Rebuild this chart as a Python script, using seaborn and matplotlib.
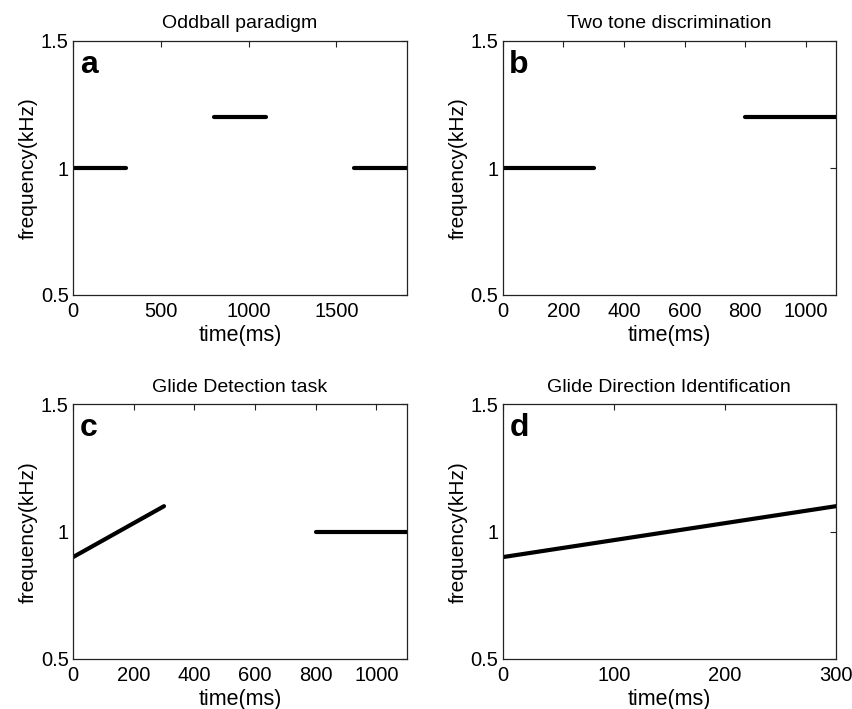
import matplotlib
matplotlib.use("Agg")
import matplotlib.pyplot as plt
import seaborn as sns
import pandas as pd

sns.set_style("white")
plt.rcParams['font.family'] = ['Liberation Sans', 'DejaVu Sans']
plt.rcParams['text.color'] = 'black'
plt.rcParams['axes.labelcolor'] = 'black'

# Segment data: (panel, segment id, time start/end, freq start/end)
titles = ["Oddball paradigm", "Two tone discrimination",
          "Glide Detection task", "Glide Direction Identification"]
letters = ["a", "b", "c", "d"]
xlims = [1900, 1100, 1100, 300]
xticks = [[0, 500, 1000, 1500], [0, 200, 400, 600, 800, 1000],
          [0, 200, 400, 600, 800, 1000], [0, 100, 200, 300]]
yticks = [0.5, 1, 1.5]

seg_panel = [0, 0, 0, 1, 1, 2, 2, 3]
seg_t0 = [0, 800, 1600, 0, 800, 0, 800, 0]
seg_t1 = [300, 1100, 1900, 300, 1100, 300, 1100, 300]
seg_f0 = [1.0, 1.2, 1.0, 1.0, 1.2, 0.9, 1.0, 0.9]
seg_f1 = [1.0, 1.2, 1.0, 1.0, 1.2, 1.1, 1.0, 1.1]

rows = []
for i, p in enumerate(seg_panel):
    rows.append(dict(panel=p, seg=i, time=seg_t0[i], freq=seg_f0[i]))
    rows.append(dict(panel=p, seg=i, time=seg_t1[i], freq=seg_f1[i]))
df = pd.DataFrame(rows)

fig = plt.figure(figsize=(8.52, 7.09), dpi=100)
W, H = 852, 709
boxes = [(73, 41, 406.7, 295), (502.7, 41, 836, 295),
         (73, 404.3, 406.7, 659), (502.7, 404.3, 836, 659)]

for p in range(4):
    x0, y0, x1, y1 = boxes[p]
    ax = fig.add_axes([x0 / W, 1 - y1 / H, (x1 - x0) / W, (y1 - y0) / H])
    sub = df[df.panel == p]
    for s, g in sub.groupby("seg"):
        sns.lineplot(data=g, x="time", y="freq", ax=ax, color="black",
                     linewidth=3.0, estimator=None, sort=False)
    ax.set_xlim(0, xlims[p])
    ax.set_ylim(0.5, 1.5)
    ax.set_xticks(xticks[p])
    ax.set_yticks(yticks)
    ax.set_yticklabels(["0.5", "1", "1.5"])
    ax.tick_params(direction="in", length=4, width=0.8, labelsize=14.5,
                   top=True, right=True, pad=5, colors="#222222",
                   labelcolor="black")
    ax.tick_params(axis="y", pad=3)
    for sp in ax.spines.values():
        sp.set_linewidth(0.9)
        sp.set_color("#222222")
    ax.set_xlabel("time(ms)", fontsize=15.5, labelpad=3)
    ax.set_ylabel("frequency(kHz)", fontsize=15, labelpad=2)
    ax.set_title(titles[p], fontsize=14, pad=9, color="black")
    ax.text(0.02, 0.965, letters[p], transform=ax.transAxes, fontsize=23,
            fontweight="bold", va="top", ha="left")

fig.savefig("out.png", dpi=100)
